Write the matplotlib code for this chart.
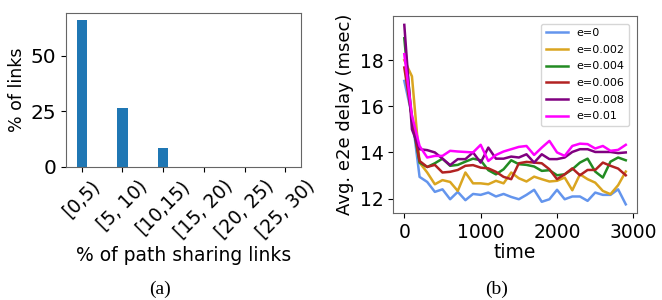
import matplotlib
matplotlib.use("Agg")
import matplotlib.pyplot as plt
import numpy as np

# Panel (a) data
categories = ["[0,5)", "[5, 10)", "[10,15)", "[15, 20)", "[20, 25)", "[25, 30)"]
pct_links = [65.9, 26.2, 8.4, 0, 0, 0]

# Panel (b) data
time = list(range(0, 3000, 100))
e0 = [17.1, 15.6, 12.94, 12.72, 12.29, 12.4, 11.97, 12.29, 11.93, 12.2,
      12.16, 12.26, 12.09, 12.2, 12.07, 11.97, 12.16, 12.38, 11.86, 11.97,
      12.38, 11.97, 12.09, 12.09, 11.9, 12.26, 12.16, 12.16, 12.4, 11.75]
e002 = [18.0, 17.3, 13.56, 13.13, 12.62, 12.8, 12.72, 12.33, 13.13, 12.66,
        12.66, 12.62, 12.77, 12.66, 13.13, 12.88, 12.74, 12.95, 12.84, 12.74,
        12.77, 12.91, 12.36, 13.05, 12.84, 12.69, 12.33, 12.19, 12.58, 13.17]
e004 = [18.95, 15.4, 13.56, 13.37, 13.53, 13.73, 13.42, 13.46, 13.6, 13.73,
        13.66, 13.23, 13.05, 13.27, 13.66, 13.49, 13.46, 13.39, 13.2, 13.23,
        13.01, 13.05, 13.27, 13.56, 13.73, 13.17, 12.91, 13.6, 13.78, 13.66]
e006 = [17.68, 15.5, 13.63, 13.37, 13.46, 13.13, 13.16, 13.24, 13.42, 13.45,
        13.34, 13.31, 13.16, 12.94, 12.84, 13.53, 13.59, 13.56, 13.53, 13.27,
        12.84, 13.05, 13.31, 13.01, 13.24, 13.24, 13.56, 13.42, 13.3, 13.01]
e008 = [19.53, 15.0, 14.14, 14.1, 14.0, 13.73, 13.45, 13.71, 13.71, 14.0,
        13.56, 14.21, 13.73, 13.73, 13.82, 13.78, 13.92, 13.56, 13.92, 13.71,
        13.71, 13.78, 14.02, 14.14, 14.14, 14.02, 14.02, 14.02, 13.97, 14.0]
e01 = [18.26, 15.6, 14.28, 13.78, 13.85, 13.85, 14.07, 14.04, 14.02, 14.0,
       14.33, 13.63, 13.89, 14.04, 14.14, 14.24, 14.28, 13.89, 14.21, 14.5,
       14.0, 13.85, 14.28, 14.38, 14.36, 14.17, 14.28, 14.07, 14.11, 14.33]
series_labels = ["e=0", "e=0.002", "e=0.004", "e=0.006", "e=0.008", "e=0.01"]
series_colors = ["cornflowerblue", "goldenrod", "forestgreen", "firebrick", "purple", "magenta"]

plt.rcParams['font.family'] = ['DejaVu Sans']
fig = plt.figure(figsize=(6.62, 3.0), dpi=100)

spine_color = '#666666'

# Panel (a)
ax1 = fig.add_axes([0.0997, 0.4443, 0.355, 0.513])
x = np.arange(len(categories))
ax1.bar(x, pct_links, width=0.25, color='#1f77b4')
ax1.set_xticks(x)
ax1.set_xticklabels(categories, rotation=45, fontsize=13.5)
ax1.set_yticks([0, 25, 50])
ax1.tick_params(axis='y', labelsize=14.5)
ax1.set_ylabel("% of links", fontsize=12.5, labelpad=3)
ax1.set_xlabel("% of path sharing links", fontsize=13.5, labelpad=3)
for s in ax1.spines.values():
    s.set_color(spine_color)

# Panel (b)
ax2 = fig.add_axes([0.594, 0.289, 0.368, 0.658])
for vals, lab, col in zip([e0, e002, e004, e006, e008, e01], series_labels, series_colors):
    ax2.plot(time, vals, color=col, label=lab, linewidth=1.8)
ax2.set_xticks([0, 1000, 2000, 3000])
ax2.set_yticks([12, 14, 16, 18])
ax2.tick_params(axis='both', labelsize=13.5)
ax2.set_xlabel("time", fontsize=13.5, labelpad=1)
ax2.set_ylabel("Avg. e2e delay (msec)", fontsize=13)
ax2.legend(loc='upper right', fontsize=8, labelspacing=0.6, borderaxespad=0.7)
for s in ax2.spines.values():
    s.set_color(spine_color)

fig.text(0.2417, 0.035, "(a)", ha='center', va='center', fontsize=14, family='Liberation Serif')
fig.text(0.7508, 0.035, "(b)", ha='center', va='center', fontsize=14, family='Liberation Serif')

fig.savefig("out.png", dpi=100)
